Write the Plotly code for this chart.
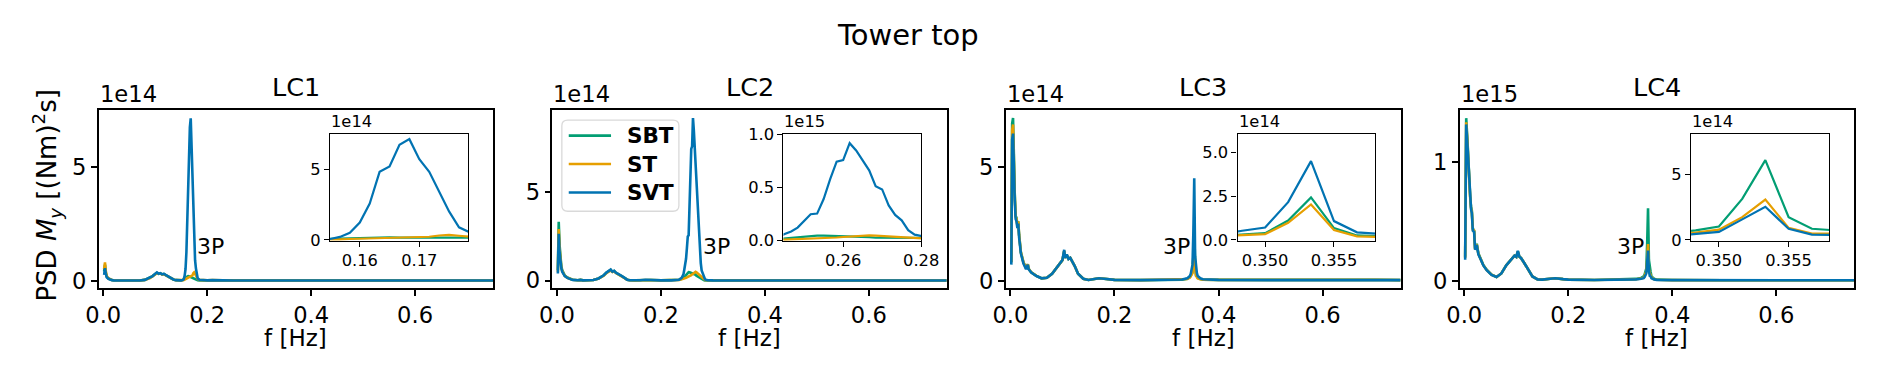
import plotly.graph_objects as go

# ---------------- data (PSD values in units of 1e14 (Nm)^2 s) ----------------
freq_lc1 = [0.00167, 0.00333, 0.005, 0.00667, 0.01, 0.01333, 0.01667, 0.02, 0.03, 0.04,
            0.05, 0.06, 0.07, 0.08, 0.09, 0.095, 0.1, 0.10333, 0.10667, 0.11,
            0.11333, 0.11667, 0.12, 0.12333, 0.13, 0.135, 0.14, 0.145, 0.15, 0.15333,
            0.155, 0.15667, 0.15833, 0.16, 0.16167, 0.16333, 0.165, 0.16667, 0.16833, 0.17,
            0.17167, 0.17333, 0.175, 0.17667, 0.17833,
            0.18, 0.18167, 0.185, 0.19, 0.2, 0.21, 0.22, 0.23, 0.25, 0.3,
            0.4, 0.5, 0.6, 0.7, 0.75]
svt_lc1 = [0.25, 0.55, 0.3, 0.15, 0.08, 0.04, 0.02, 0.01, 0.005, 0.003,
           0.003, 0.003, 0.005, 0.03, 0.12, 0.2, 0.3, 0.36, 0.3, 0.33,
           0.28, 0.3, 0.25, 0.2, 0.1, 0.05, 0.02, 0.01, 0.01, 0.03,
           0.07, 0.22, 0.51, 1.24, 2.59, 4.84, 5.22, 6.76, 7.16, 5.74,
           4.84, 3.38, 2.03, 0.90, 0.54,
           0.25, 0.1, 0.04, 0.02, 0.01, 0.02, 0.03, 0.01, 0.005, 0.004,
           0.003, 0.003, 0.003, 0.003, 0.003]
st_lc1 = [0.5, 0.8, 0.4, 0.2, 0.1, 0.05, 0.03, 0.015, 0.006, 0.004,
          0.003, 0.003, 0.005, 0.03, 0.11, 0.19, 0.28, 0.33, 0.3, 0.31,
          0.27, 0.28, 0.24, 0.19, 0.1, 0.05, 0.02, 0.01, 0.01, 0.02,
          0.03, 0.05, 0.07, 0.09, 0.1, 0.12, 0.14, 0.16, 0.18, 0.2,
          0.23, 0.32, 0.36, 0.3, 0.22,
          0.15, 0.08, 0.03, 0.015, 0.01, 0.02, 0.03, 0.01, 0.005, 0.004,
          0.003, 0.003, 0.003, 0.003, 0.003]
sbt_lc1 = [0.4, 0.7, 0.35, 0.17, 0.09, 0.045, 0.025, 0.012, 0.005, 0.003,
           0.003, 0.003, 0.005, 0.03, 0.12, 0.2, 0.29, 0.34, 0.3, 0.32,
           0.27, 0.29, 0.24, 0.2, 0.1, 0.05, 0.02, 0.01, 0.01, 0.03,
           0.08, 0.1, 0.13, 0.15, 0.18, 0.2, 0.19, 0.17, 0.16, 0.15,
           0.12, 0.1, 0.08, 0.07, 0.06,
           0.04, 0.02, 0.01, 0.01, 0.01, 0.02, 0.03, 0.01, 0.005, 0.004,
           0.003, 0.003, 0.003, 0.003, 0.003]

freq_lc2 = [0.00167, 0.00333, 0.005, 0.00667, 0.00833, 0.01, 0.0125, 0.015, 0.02, 0.025,
            0.03, 0.04, 0.045, 0.05, 0.06, 0.07, 0.08, 0.09, 0.095, 0.1,
            0.10333, 0.10667, 0.11, 0.11333, 0.11667, 0.12, 0.125, 0.13, 0.135, 0.14,
            0.15, 0.16, 0.17, 0.18, 0.2, 0.22, 0.23, 0.235, 0.24, 0.24333,
            0.245, 0.24667, 0.24833, 0.25, 0.25167, 0.25333, 0.255, 0.25667, 0.25833, 0.26,
            0.26167, 0.26333, 0.265, 0.26667, 0.26833, 0.27, 0.27167, 0.27333, 0.275, 0.27667,
            0.27833, 0.28,
            0.28167, 0.28333, 0.285, 0.29, 0.3, 0.35, 0.4, 0.5, 0.6, 0.7, 0.75]
svt_lc2 = [0.4, 2.64, 1.6, 1.0, 0.7, 0.5, 0.35, 0.25, 0.15, 0.08,
           0.04, 0.02, 0.04, 0.01, 0.01, 0.03, 0.12, 0.3, 0.45, 0.55,
           0.62, 0.5, 0.55, 0.45, 0.4, 0.35, 0.25, 0.15, 0.05, 0.02,
           0.01, 0.02, 0.05, 0.03, 0.01, 0.01, 0.02, 0.05, 0.15, 0.35,
           0.63, 0.87, 1.23, 1.83, 2.49, 2.55, 3.92, 5.78, 7.43, 7.58,
           9.17, 8.48, 7.52, 6.62, 5.12, 4.82, 3.32, 2.42, 1.92, 0.99,
           0.57, 0.42,
           0.25, 0.12, 0.06, 0.02, 0.01, 0.005, 0.004, 0.003, 0.003, 0.003, 0.003]
st_lc2 = [0.5, 2.91, 1.8, 1.1, 0.75, 0.55, 0.38, 0.27, 0.16, 0.09,
          0.045, 0.02, 0.04, 0.01, 0.01, 0.03, 0.11, 0.28, 0.42, 0.52,
          0.58, 0.48, 0.52, 0.43, 0.38, 0.33, 0.24, 0.14, 0.05, 0.02,
          0.01, 0.02, 0.05, 0.03, 0.01, 0.01, 0.02, 0.04, 0.07, 0.09,
          0.1, 0.12, 0.15, 0.18, 0.2, 0.22, 0.25, 0.28, 0.3, 0.35,
          0.4, 0.45, 0.48, 0.5, 0.47, 0.42, 0.38, 0.33, 0.28, 0.22,
          0.18, 0.15,
          0.1, 0.06, 0.03, 0.015, 0.01, 0.005, 0.004, 0.003, 0.003, 0.003, 0.003]
sbt_lc2 = [0.6, 3.32, 2.0, 1.2, 0.8, 0.6, 0.4, 0.28, 0.17, 0.09,
           0.045, 0.02, 0.04, 0.01, 0.01, 0.03, 0.12, 0.3, 0.44, 0.54,
           0.6, 0.5, 0.54, 0.44, 0.39, 0.34, 0.25, 0.15, 0.05, 0.02,
           0.01, 0.02, 0.05, 0.03, 0.01, 0.01, 0.02, 0.05, 0.1, 0.15,
           0.2, 0.25, 0.3, 0.4, 0.45, 0.48, 0.47, 0.45, 0.47, 0.45,
           0.42, 0.4, 0.38, 0.33, 0.28, 0.25, 0.2, 0.15, 0.12, 0.1,
           0.08, 0.06,
           0.04, 0.02, 0.01, 0.01, 0.01, 0.005, 0.004, 0.003, 0.003, 0.003, 0.003]

freq_lc3 = [0.00167, 0.00333, 0.005, 0.00667, 0.00833, 0.01, 0.01167, 0.01333, 0.015, 0.01667,
            0.02, 0.025, 0.03, 0.03333, 0.035, 0.04, 0.05, 0.06, 0.07, 0.08,
            0.09, 0.1, 0.10333, 0.105, 0.10833, 0.11167, 0.115, 0.12, 0.12333, 0.13,
            0.14, 0.15, 0.16, 0.17, 0.18, 0.2, 0.25, 0.3, 0.33, 0.34,
            0.345, 0.34667,
            0.34833, 0.35, 0.35167, 0.35333, 0.355, 0.35667, 0.35833,
            0.36, 0.365, 0.37, 0.4, 0.5, 0.6, 0.65, 0.7, 0.72, 0.75]
svt_lc3 = [0.7, 6.2, 6.45, 4.5, 3.5, 2.7, 2.6, 2.3, 2.5, 1.9,
           1.2, 0.75, 0.5, 0.7, 0.5, 0.35, 0.2, 0.1, 0.12, 0.3,
           0.6, 0.9, 1.35, 1.0, 1.15, 0.95, 1.0, 0.8, 0.65, 0.3,
           0.08, 0.03, 0.05, 0.1, 0.08, 0.03, 0.02, 0.03, 0.05, 0.1,
           0.2, 0.3,
           0.52, 0.70, 2.15, 4.49, 1.07, 0.43, 0.34,
           0.2, 0.1, 0.06, 0.03, 0.02, 0.02, 0.03, 0.04, 0.03, 0.02]
st_lc3 = [0.8, 6.6, 6.85, 4.8, 3.7, 2.8, 2.7, 2.4, 2.6, 2.0,
          1.25, 0.8, 0.55, 0.72, 0.52, 0.36, 0.21, 0.1, 0.12, 0.3,
          0.6, 0.9, 1.3, 1.0, 1.12, 0.95, 1.0, 0.8, 0.65, 0.3,
          0.08, 0.03, 0.05, 0.1, 0.08, 0.03, 0.02, 0.03, 0.04, 0.07,
          0.13, 0.2,
          0.27, 0.33, 0.97, 2.02, 0.56, 0.2, 0.16,
          0.1, 0.06, 0.04, 0.03, 0.02, 0.02, 0.03, 0.04, 0.03, 0.02]
sbt_lc3 = [0.8, 6.9, 7.13, 5.0, 3.8, 2.85, 2.75, 2.45, 2.6, 2.0,
           1.25, 0.8, 0.55, 0.72, 0.52, 0.36, 0.21, 0.1, 0.12, 0.3,
           0.6, 0.9, 1.3, 1.0, 1.12, 0.95, 1.0, 0.8, 0.65, 0.3,
           0.08, 0.03, 0.05, 0.1, 0.08, 0.03, 0.02, 0.03, 0.04, 0.08,
           0.15, 0.22,
           0.31, 0.38, 1.1, 2.42, 0.67, 0.25, 0.2,
           0.12, 0.07, 0.04, 0.03, 0.02, 0.02, 0.03, 0.04, 0.03, 0.02]

freq_lc4 = [0.0017, 0.0037, 0.006, 0.0081, 0.0095, 0.0113, 0.013, 0.0145, 0.0164, 0.0189,
            0.0208, 0.024, 0.0271, 0.0303, 0.0335, 0.0366, 0.043, 0.0524, 0.062, 0.0713,
            0.0808, 0.0855, 0.0903, 0.0966, 0.1, 0.103, 0.106, 0.109, 0.115, 0.122,
            0.131, 0.141, 0.15, 0.165, 0.175, 0.19, 0.2, 0.25, 0.3, 0.33,
            0.34, 0.345, 0.34667,
            0.34833, 0.35, 0.35167, 0.35333, 0.355, 0.35667, 0.35833,
            0.36, 0.365, 0.37, 0.4, 0.5, 0.6, 0.7, 0.75]
svt_lc4 = [1.76, 13.15, 11.5, 9.5, 8.0, 6.9, 6.0, 5.7, 4.2, 4.1,
           2.6, 3.0, 2.2, 1.9, 1.6, 1.28, 0.88, 0.48, 0.3, 0.6,
           1.28, 1.5, 1.8, 2.1, 2.0, 2.5, 2.0, 1.9, 1.5, 1.0,
           0.35, 0.1, 0.08, 0.15, 0.2, 0.12, 0.08, 0.05, 0.06, 0.1,
           0.15, 0.2, 0.3,
           0.43, 0.6, 1.56, 2.52, 0.84, 0.4, 0.36,
           0.2, 0.1, 0.06, 0.04, 0.03, 0.03, 0.05, 0.03]
st_lc4 = [1.9, 13.33, 11.7, 9.6, 8.1, 7.0, 6.1, 5.8, 4.3, 4.2,
          2.65, 3.05, 2.25, 1.95, 1.62, 1.3, 0.9, 0.49, 0.3, 0.6,
          1.28, 1.5, 1.8, 2.1, 2.0, 2.45, 2.0, 1.9, 1.5, 1.0,
          0.35, 0.1, 0.08, 0.15, 0.2, 0.12, 0.08, 0.05, 0.06, 0.11,
          0.17, 0.25, 0.38,
          0.55, 0.77, 1.73, 3.07, 0.91, 0.48, 0.43,
          0.25, 0.12, 0.07, 0.04, 0.03, 0.03, 0.05, 0.03]
sbt_lc4 = [2.0, 13.68, 11.9, 9.7, 8.2, 7.1, 6.2, 5.9, 4.4, 4.2,
           2.7, 3.1, 2.3, 2.0, 1.65, 1.32, 0.92, 0.5, 0.3, 0.6,
           1.3, 1.52, 1.82, 2.1, 2.0, 2.45, 2.0, 1.9, 1.5, 1.0,
           0.35, 0.1, 0.08, 0.15, 0.2, 0.12, 0.08, 0.05, 0.07, 0.14,
           0.22, 0.35, 0.5,
           0.72, 1.01, 3.12, 6.08, 1.73, 0.84, 0.72,
           0.35, 0.15, 0.08, 0.05, 0.03, 0.03, 0.05, 0.03]

case_names = ["LC1", "LC2", "LC3", "LC4"]
series_names = ["SBT", "ST", "SVT"]
series_colors = ["#029E73", "#E69F00", "#0173B2"]
main_exp = [14, 14, 14, 15]      # offset exponent of main axes
inset_exp = [14, 15, 14, 14]     # offset exponent of insets
main_yticks = [[0, 5], [0, 5], [0, 5], [0, 1]]
inset_yticks = [[0, 5], [0.0, 0.5, 1.0], [0.0, 2.5, 5.0], [0, 5]]
inset_yticktext = [["0", "5"], ["0.0", "0.5", "1.0"], ["0.0", "2.5", "5.0"], ["0", "5"]]
inset_xticks = [[0.16, 0.17], [0.26, 0.28], [0.350, 0.355], [0.350, 0.355]]
inset_xticktext = [["0.16", "0.17"], ["0.26", "0.28"], ["0.350", "0.355"], ["0.350", "0.355"]]
main_xticks = [0.0, 0.2, 0.4, 0.6]
label_3p_pos = [(0.176, 1.5), (0.278, 1.93), (0.2886, 1.5), (0.289, 0.288)]

freqs = [freq_lc1, freq_lc2, freq_lc3, freq_lc4]
data = [[sbt_lc1, st_lc1, svt_lc1], [sbt_lc2, st_lc2, svt_lc2],
        [sbt_lc3, st_lc3, svt_lc3], [sbt_lc4, st_lc4, svt_lc4]]
for f, ser in zip(freqs, data):
    for s in ser:
        assert len(s) == len(f), (len(s), len(f))

# ---------------- layout geometry (pixels) ----------------
W, H = 1892, 377
def px(x):
    return x / W
def py(y):
    return 1 - y / H

main_x = [(87, 488), (548.3, 949.3), (1009.3, 1410.7), (1470.7, 1872)]
main_y = (106.7, 294)
inset_x = [(322.3, 462.7), (783.3, 923.3), (1245, 1385), (1706, 1846.3)]
inset_y = (132, 244)
main_xrange = [-0.009, 0.75]
main_yrange = [[-0.335, 7.515], [-0.43, 9.61], [-0.333, 7.47], [-0.064, 1.434]]
inset_xrange = [[0.155, 0.1782], [0.2447, 0.28], [0.348, 0.358], [0.348, 0.3579]]
inset_yrange = [[-0.05, 7.5], [0, 1.0], [-0.05, 6.02], [-0.07, 8.05]]

FONT = "DejaVu Sans"
fig = go.Figure()
layout = dict(width=W, height=H, margin=dict(l=0, r=0, t=0, b=0),
              paper_bgcolor="white", plot_bgcolor="white", showlegend=False,
              font=dict(family=FONT, color="black"))

def axis_style(domain, rng, tickvals, ticktext, anchor, size, lw, tl):
    return dict(domain=domain, range=rng, anchor=anchor, showline=True, linecolor="black",
                linewidth=lw, mirror=True, ticks="outside", ticklen=tl, tickwidth=lw,
                tickcolor="black", showgrid=False, zeroline=False, tickmode="array",
                tickvals=tickvals, ticktext=ticktext,
                tickfont=dict(family=FONT, size=size, color="black"))

annotations = []
for i in range(4):
    mx, ix = i + 1, i + 5
    mxs = "" if mx == 1 else str(mx)
    # main axes
    layout["xaxis" + mxs] = axis_style([px(main_x[i][0]), px(main_x[i][1])], main_xrange,
                                       main_xticks, ["%.1f" % t for t in main_xticks],
                                       "y" + mxs, 22.6, 1.5, 6)
    layout["yaxis" + mxs] = axis_style([py(main_y[1]), py(main_y[0])], main_yrange[i],
                                       main_yticks[i], [str(t) for t in main_yticks[i]],
                                       "x" + mxs, 22.6, 1.5, 6)
    # inset axes
    layout["xaxis%d" % ix] = axis_style([px(inset_x[i][0]), px(inset_x[i][1])], inset_xrange[i],
                                        inset_xticks[i], inset_xticktext[i], "y%d" % ix, 16.3, 1.3, 5)
    layout["yaxis%d" % ix] = axis_style([py(inset_y[1]), py(inset_y[0])], inset_yrange[i],
                                        inset_yticks[i], inset_yticktext[i], "x%d" % ix, 16.3, 1.3, 5)
    mscale = 10.0 ** (14 - main_exp[i])
    iscale = 10.0 ** (14 - inset_exp[i])
    for k in range(3):
        vals = data[i][k]
        fig.add_trace(go.Scatter(x=freqs[i], y=[v * mscale for v in vals], mode="lines",
                                 line=dict(color=series_colors[k], width=2.6),
                                 xaxis="x" + mxs, yaxis="y" + mxs, name=series_names[k],
                                 hoverinfo="skip"))
        fig.add_trace(go.Scatter(x=freqs[i], y=[v * iscale for v in vals], mode="lines",
                                 line=dict(color=series_colors[k], width=2.2),
                                 xaxis="x%d" % ix, yaxis="y%d" % ix, name=series_names[k],
                                 hoverinfo="skip"))
    # subplot title
    annotations.append(dict(text=case_names[i], x=px((main_x[i][0] + main_x[i][1]) / 2), y=py(82),
                            xref="paper", yref="paper", showarrow=False, xanchor="center",
                            yanchor="middle", font=dict(size=25.5, family=FONT)))
    # offset texts
    annotations.append(dict(text="1e%d" % main_exp[i], x=px(main_x[i][0] - 1), y=py(90),
                            xref="paper", yref="paper", showarrow=False, xanchor="left",
                            yanchor="middle", font=dict(size=22.6, family=FONT)))
    annotations.append(dict(text="1e%d" % inset_exp[i], x=px(inset_x[i][0] - 1), y=py(118.5),
                            xref="paper", yref="paper", showarrow=False, xanchor="left",
                            yanchor="middle", font=dict(size=16.3, family=FONT)))
    # x label
    annotations.append(dict(text="f [Hz]", x=px((main_x[i][0] + main_x[i][1]) / 2), y=py(346),
                            xref="paper", yref="paper", showarrow=False, xanchor="center",
                            yanchor="middle", font=dict(size=23, family=FONT)))
    # 3P label
    annotations.append(dict(text="3P", x=label_3p_pos[i][0], y=label_3p_pos[i][1],
                            xref="x" + mxs, yref="y" + mxs, showarrow=False, xanchor="left",
                            yanchor="middle", font=dict(size=22, family=FONT)))

# suptitle and y label
annotations.append(dict(text="Tower top", x=px(910), y=py(27), xref="paper", yref="paper",
                        showarrow=False, xanchor="center", yanchor="middle",
                        font=dict(size=29, family=FONT)))
annotations.append(dict(text="PSD <i>M</i><sub><i>y</i></sub> [(Nm)<sup>2</sup>s]", x=px(34), y=py(196),
                        xref="paper", yref="paper", showarrow=False, xanchor="center",
                        yanchor="middle", textangle=-90, font=dict(size=26, family=FONT)))

# legend (drawn inside LC2 axes)
shapes = []
lx0, lx1, ly0, ly1, r = 558, 677, 117, 213, 6
rx, ry = r / W, r / H
X0, X1, Y0, Y1 = px(lx0), px(lx1), py(ly1), py(ly0)
path = (f"M {X0+rx},{Y0} L {X1-rx},{Y0} Q {X1},{Y0} {X1},{Y0+ry} L {X1},{Y1-ry} "
        f"Q {X1},{Y1} {X1-rx},{Y1} L {X0+rx},{Y1} Q {X0},{Y1} {X0},{Y1-ry} "
        f"L {X0},{Y0+ry} Q {X0},{Y0} {X0+rx},{Y0} Z")
shapes.append(dict(type="path", path=path, xref="paper", yref="paper",
                   line=dict(color="#d9d9d9", width=1.3), fillcolor="rgba(255,255,255,0.8)",
                   layer="above"))
for k in range(3):
    yy = 133.3 + 30 * k
    shapes.append(dict(type="line", xref="paper", yref="paper", x0=px(565), x1=px(608),
                       y0=py(yy), y1=py(yy), line=dict(color=series_colors[k], width=2.6),
                       layer="above"))
    annotations.append(dict(text="<b>%s</b>" % series_names[k], x=px(622), y=py(yy),
                            xref="paper", yref="paper", showarrow=False, xanchor="left",
                            yanchor="middle", font=dict(size=21.5, family=FONT)))

layout["annotations"] = annotations
layout["shapes"] = shapes
fig.update_layout(**layout)
fig.write_html("out.html", config={"displayModeBar": False},
               post_script="document.body.style.margin='0';")
